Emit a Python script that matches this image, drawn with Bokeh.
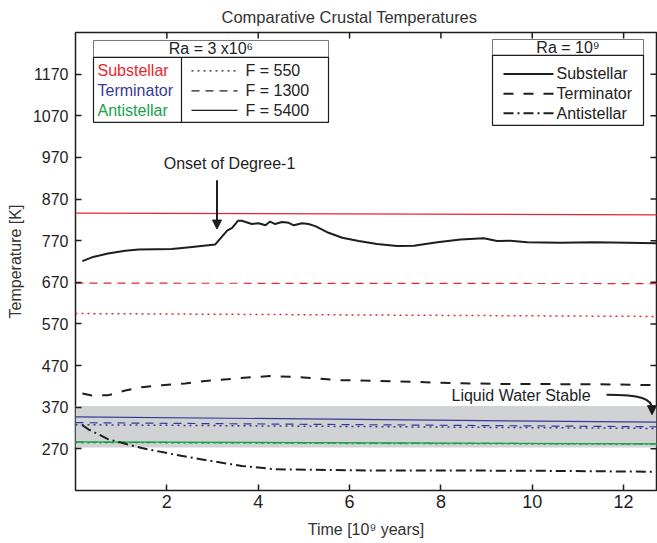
from bokeh.plotting import figure
from bokeh.models import Range1d, FixedTicker, Arrow, NormalHead
from bokeh.embed import file_html
from bokeh.resources import INLINE
from bokeh.core.properties import value

# ---------------- data ----------------
x_ticks = [2, 4, 6, 8, 10, 12]
y_ticks = [270, 370, 470, 570, 670, 770, 870, 970, 1070, 1170]

# Ra = 1e9 (black curves)
time_sub9 = [0.15, 0.36, 0.71, 1.09, 1.38, 2.11, 2.55, 3.06, 3.32, 3.43, 3.56, 3.64, 3.86,
             4.01, 4.16, 4.26, 4.37, 4.52, 4.67, 4.78, 4.96, 5.10, 5.25, 5.54, 5.84, 6.20,
             6.60, 7.04, 7.41, 7.92, 8.43, 8.94, 9.23, 9.52, 9.89, 10.62, 11.35, 12.08, 12.74]
sub9 = [721, 730, 739, 746, 749, 750, 755, 761, 794, 801, 818, 818, 810,
        812, 807, 816, 810, 815, 813, 807, 812, 810, 805, 789, 777, 769,
        762, 757, 758, 766, 773, 776, 769, 770, 766, 765, 766, 765, 764]
time_term9 = [0.15, 0.36, 0.72, 1.09, 1.45, 1.89, 2.40, 2.84, 3.61, 4.26, 4.92, 5.80,
              7.11, 8.21, 9.31, 11.5, 12.74]
term9 = [403, 398, 399, 410, 418, 423, 427, 433, 440, 445, 442, 435, 432, 428, 426, 425, 423]
time_anti9 = [0.15, 0.28, 0.72, 1.45, 2.18, 2.91, 3.64, 4.37, 5.10, 6.42, 8.43, 10.62, 12.66]
anti9 = [327, 317, 293, 272, 256, 242, 229, 221, 220, 218, 218, 217, 215]

# Ra = 3e6 (coloured, nearly flat)
time_flat = [0.0, 12.75]
sub_550 = [595, 588]
sub_1300 = [668, 667]
sub_5400 = [836, 832]
term_550 = [328, 319]
term_1300 = [333, 323]
term_5400 = [347, 334]
anti_550 = [285, 281]
anti_1300 = [286, 282]
anti_5400 = [287, 282]

water_lo, water_hi = 273, 373

# ---------------- layout helpers ----------------
W, H = 657, 543
FL, FR, FT, FB = 75, 656, 31, 490
X0, X1 = 0.0, 12.72
Y0, Y1 = 170.0, 1270.0


def dx(px):
    return X0 + (px - FL) / (FR - FL) * (X1 - X0)


def dy(py):
    return Y0 + (FB - py) / (FB - FT) * (Y1 - Y0)


FONT = "Liberation Sans"
RED = "#e8262f"
BLUE = "#363a96"
GREEN = "#16a24a"
BLACK = "#1e1e1e"

p = figure(width=W, height=H, output_backend="svg", toolbar_location=None,
           x_range=Range1d(X0, X1), y_range=Range1d(Y0, Y1),
           min_border_left=FL, min_border_right=W - FR, min_border_top=FT,
           min_border_bottom=H - FB)
p.background_fill_color = "white"
p.border_fill_color = "white"
p.outline_line_color = BLACK
p.outline_line_width = 1.5
p.grid.visible = False

p.title.text = "Comparative Crustal Temperatures"
p.title.text_font = FONT
p.title.text_font_size = "16.5px"
p.title.text_font_style = "normal"
p.title.text_color = "#333333"
p.title.align = "left"
p.title.offset = 146
p.title.vertical_align = "middle"
p.title.standoff = 12

for ax in (p.xaxis[0], p.yaxis[0]):
    ax.axis_line_color = None
    ax.major_tick_in = 6
    ax.major_tick_out = 0
    ax.major_tick_line_color = BLACK
    ax.major_tick_line_width = 1.5
    ax.minor_tick_line_color = None
    ax.major_label_text_font = FONT
    ax.major_label_text_color = BLACK
    ax.axis_label_text_font = FONT
    ax.axis_label_text_font_style = "normal"
    ax.axis_label_text_color = "#333333"

p.xaxis.ticker = FixedTicker(ticks=x_ticks)
p.yaxis.ticker = FixedTicker(ticks=y_ticks)
p.xaxis.major_label_text_font_size = "18px"
p.yaxis.major_label_text_font_size = "16px"
p.xaxis.major_label_standoff = 4
p.yaxis.major_label_standoff = 7
p.xaxis.axis_label = "Time [10\u2079 years]"
p.yaxis.axis_label = "Temperature [K]"
p.xaxis.axis_label_text_font_size = "16px"
p.yaxis.axis_label_text_font_size = "16px"
p.xaxis.axis_label_standoff = 10
p.yaxis.axis_label_standoff = 6

# top / right box ticks
tick_len_x = (X1 - X0) / (FR - FL) * 6
tick_len_y = (Y1 - Y0) / (FB - FT) * 6
p.segment(x0=x_ticks, x1=x_ticks, y0=[Y1] * len(x_ticks), y1=[Y1 - tick_len_y] * len(x_ticks),
          line_color=BLACK, line_width=1.5)
p.segment(x0=[X1] * len(y_ticks), x1=[X1 - tick_len_x] * len(y_ticks), y0=y_ticks, y1=y_ticks,
          line_color=BLACK, line_width=1.5)

# liquid water band
p.quad(left=X0, right=X1, bottom=water_lo, top=water_hi, fill_color="#d1d2d4",
       line_color=None)

# coloured Ra = 3e6 lines
for ys, col in ((sub_550, RED), (term_550, BLUE), (anti_550, GREEN)):
    p.line(time_flat, ys, line_color=col, line_width=1.5, line_dash="2 4")
for ys, col in ((sub_1300, RED), (term_1300, BLUE), (anti_1300, GREEN)):
    p.line(time_flat, ys, line_color=col, line_width=1.2, line_dash="8 6")
for ys, col in ((sub_5400, RED), (term_5400, BLUE), (anti_5400, GREEN)):
    p.line(time_flat, ys, line_color=col, line_width=1.2)

# black Ra = 1e9 lines
p.line(time_sub9, sub9, line_color=BLACK, line_width=2)
p.line(time_term9, term9, line_color=BLACK, line_width=2, line_dash="10 10")
p.line(time_anti9, anti9, line_color=BLACK, line_width=2, line_dash="10 4 2 4")

# annotations
p.text(x=[dx(229)], y=[dy(162)], text=["Onset of Degree-1"], text_font=value(FONT),
       text_font_size="16px", text_color="#222222", text_align="center",
       text_baseline="middle")
p.add_layout(Arrow(x_start=dx(216.5), y_start=dy(179), x_end=dx(216.5), y_end=dy(228),
                   line_color=BLACK, line_width=2,
                   end=NormalHead(size=9, fill_color=BLACK, line_color=BLACK)))

p.text(x=[dx(451)], y=[dy(395)], text=["Liquid Water Stable"], text_font=value(FONT),
       text_font_size="16px", text_color="#222222", text_align="left",
       text_baseline="middle")
p.bezier(x0=[dx(606)], y0=[dy(394)], x1=[dx(651.5)], y1=[dy(408)],
         cx0=[dx(640)], cy0=[dy(394)], cx1=[dx(651.5)], cy1=[dy(398)],
         line_color=BLACK, line_width=2)
p.add_layout(Arrow(x_start=dx(651.5), y_start=dy(405), x_end=dx(651.5), y_end=dy(414),
                   line_color=BLACK, line_width=2,
                   end=NormalHead(size=9, fill_color=BLACK, line_color=BLACK)))

# legend 1 : Ra = 3x10^6
L1l, L1r, L1t, L1m, L1b, L1d = 93, 328, 39, 56, 121, 181
p.quad(left=[dx(L1l)], right=[dx(L1r)], top=[dy(L1t)], bottom=[dy(L1m)],
       fill_color="white", line_color="#777777", line_width=1)
p.quad(left=[dx(L1l)], right=[dx(L1r)], top=[dy(L1m)], bottom=[dy(L1b)],
       fill_color="white", line_color=BLACK, line_width=1.2)
p.segment(x0=[dx(L1d)], x1=[dx(L1d)], y0=[dy(L1m)], y1=[dy(L1b)], line_color=BLACK,
          line_width=1.2)
p.text(x=[dx((L1l + L1r) / 2)], y=[dy(47.5)], text=["Ra = 3 x10\u2076"],
       text_font=value(FONT), text_font_size="16px", text_color="#222222",
       text_align="center", text_baseline="middle")
rows1 = [69.5, 89.5, 109]
for lbl, col, ry in zip(["Substellar", "Terminator", "Antistellar"], [RED, BLUE, GREEN], rows1):
    p.text(x=[dx(97)], y=[dy(ry)], text=[lbl], text_font=value(FONT), text_font_size="16px",
           text_color=col, text_align="left", text_baseline="middle")
for lbl, dash, ry in zip(["F = 550", "F = 1300", "F = 5400"], ["2 4", "8 6", "solid"], rows1):
    p.line([dx(191), dx(237)], [dy(ry), dy(ry)], line_color=BLACK, line_width=1.2,
           line_dash=dash)
    p.text(x=[dx(245)], y=[dy(ry)], text=[lbl], text_font=value(FONT), text_font_size="16px",
           text_color="#222222", text_align="left", text_baseline="middle")

# legend 2 : Ra = 10^9
L2l, L2r, L2t, L2m, L2b = 492, 643, 38, 54, 124
p.quad(left=[dx(L2l)], right=[dx(L2r)], top=[dy(L2t)], bottom=[dy(L2m)],
       fill_color="white", line_color="#777777", line_width=1)
p.quad(left=[dx(L2l)], right=[dx(L2r)], top=[dy(L2m)], bottom=[dy(L2b)],
       fill_color="white", line_color=BLACK, line_width=1.2)
p.text(x=[dx((L2l + L2r) / 2)], y=[dy(46)], text=["Ra = 10\u2079"],
       text_font=value(FONT), text_font_size="16px", text_color="#222222",
       text_align="center", text_baseline="middle")
rows2 = [72.5, 92.5, 112]
for lbl, dash, ry in zip(["Substellar", "Terminator", "Antistellar"],
                         ["solid", "10 10", "10 4 2 4"], rows2):
    p.line([dx(503), dx(553)], [dy(ry), dy(ry)], line_color=BLACK, line_width=2,
           line_dash=dash)
    p.text(x=[dx(556)], y=[dy(ry)], text=[lbl], text_font=value(FONT), text_font_size="16px",
           text_color="#222222", text_align="left", text_baseline="middle")

open("out.html", "w").write(file_html(p, INLINE))
